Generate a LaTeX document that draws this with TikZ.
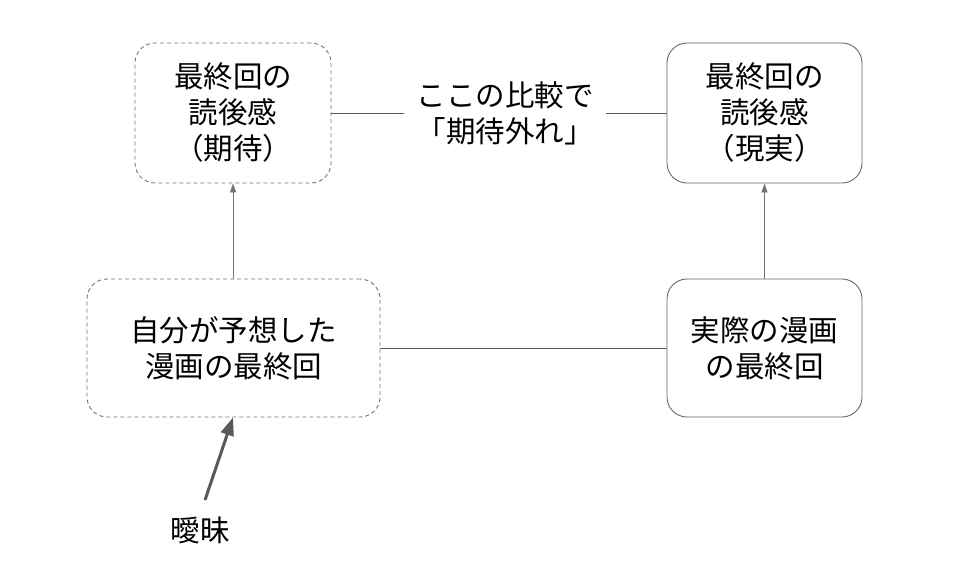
\documentclass[tikz,border=0pt]{standalone}
\usepackage{fontspec}
\setmainfont{Noto Sans CJK JP}
\usetikzlibrary{arrows.meta}
\begin{document}
\begin{tikzpicture}[x=1pt,y=-1pt,
  txt/.style={font=\fontsize{29.5}{36}\selectfont, align=center, text=black},
  basebox/.style={txt, rounded corners=20pt, line width=0.9pt},
  dbox/.style={basebox, draw=black!55, dash pattern=on 4pt off 3pt},
  sbox/.style={basebox, draw=black!60},
  link/.style={draw=black!65, line width=0.9pt},
  uparrow/.style={draw=black!55, line width=0.9pt, -{Triangle[length=9pt,width=6pt]}},
  bigarrow/.style={draw=black!65, line width=3pt, -{Triangle[length=18pt,width=13pt]}}]
\useasboundingbox (0,0) rectangle (959,566);
\node[dbox, minimum width=196pt, minimum height=140pt] (tl) at (233,113) {最終回の\\読後感\\（期待）};
\node[sbox, minimum width=195pt, minimum height=140pt] (tr) at (764.5,113) {最終回の\\読後感\\（現実）};
\node[dbox, minimum width=293pt, minimum height=138pt] (bl) at (233.5,348) {自分が予想した\\漫画の最終回};
\node[sbox, minimum width=195pt, minimum height=138pt] (br) at (764.5,348) {実際の漫画\\の最終回};
\node[txt, inner xsep=12pt] (mid) at (505,113) {ここの比較で\\「期待外れ」};
\node[txt] (amb) at (200,530) {曖昧};
\coordinate (ambtop) at (205,500);
\draw[link] (tl.east) -- (mid.west);
\draw[link] (mid.east) -- (tr.west);
\draw[link] (bl.east) -- (br.west);
\draw[uparrow] (bl.north -| tl.south) -- (tl.south);
\draw[uparrow] (br.north) -- (tr.south);
\draw[bigarrow] (ambtop) -- (bl.south -| 233,0);
\end{tikzpicture}
\end{document}
